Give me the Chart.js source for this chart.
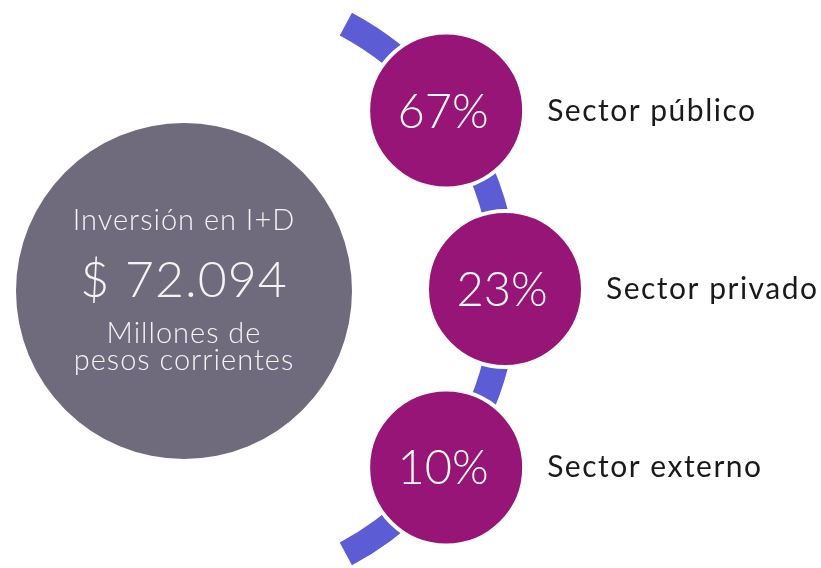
<!DOCTYPE html>
<html>
<head>
<meta charset="utf-8">
<script src="https://cdn.jsdelivr.net/npm/chart.js@4.4.1/dist/chart.umd.min.js"></script>
<style>
  html, body { margin: 0; background: #fff; }
  #wrap { width: 821px; height: 568px; }
</style>
</head>
<body>
<div id="wrap"><canvas id="inversion"></canvas></div>
<script>
const sectors = ["Sector público", "Sector privado", "Sector externo"];
const shares = [67, 23, 10];
const totalTitle = "Inversión en I+D";
const totalAmount = 72094;
const totalUnit = ["Millones de", "pesos corrientes"];

// layout (pixel units on hidden axes)
const ring = { x: 205, y: 289, r: 300, width: 26, span: 62 };
const step = 36.5;
const FONT = "Lato, 'Open Sans', sans-serif";

const fmtAmount = n => "$ " + String(n).replace(/\B(?=(\d{3})+(?!\d))/g, ".");

const sectorPoints = shares.map((v, i) => {
    const a = (i - 1) * step * Math.PI / 180;
    return { x: ring.x + ring.r * Math.cos(a), y: ring.y + ring.r * Math.sin(a), r: 78, v };
});

const ringPlugin = {
    id: "ring",
    beforeDatasetsDraw(chart) {
        const { ctx, scales: { x, y } } = chart;
        const cx = x.getPixelForValue(ring.x), cy = y.getPixelForValue(ring.y);
        const rr = Math.abs(x.getPixelForValue(ring.x + ring.r) - cx);
        ctx.save();
        ctx.strokeStyle = "#5c5cd5";
        ctx.lineWidth = ring.width;
        ctx.lineCap = "butt";
        ctx.beginPath();
        ctx.arc(cx, cy, rr, -ring.span * Math.PI / 180, ring.span * Math.PI / 180);
        ctx.stroke();
        ctx.restore();
    }
};

const textPlugin = {
    id: "texts",
    afterDatasetsDraw(chart) {
        const ctx = chart.ctx;
        ctx.save();
        // total circle
        const big = chart.getDatasetMeta(0).data[0];
        const tx = big.x;
        ctx.fillStyle = "#f4f4f4";
        ctx.textAlign = "center";
        ctx.textBaseline = "alphabetic";
        ctx.letterSpacing = "1px";
        ctx.font = "300 29px " + FONT;
        ctx.fillText(totalTitle, tx, big.y - 61);
        ctx.font = "300 50px " + FONT;
        ctx.fillText(fmtAmount(totalAmount), tx, big.y + 6);
        ctx.font = "300 29px " + FONT;
        ctx.fillText(totalUnit[0], tx, big.y + 52);
        ctx.fillText(totalUnit[1], tx, big.y + 79);

        // sector circles
        chart.getDatasetMeta(1).data.forEach((pt, i) => {
            ctx.fillStyle = "#ffffff";
            ctx.textAlign = "center";
            ctx.letterSpacing = "0px";
            ctx.font = "300 47px " + FONT;
            ctx.fillText(shares[i] + "%", pt.x - 3, pt.y + 17);
            ctx.fillStyle = "#1a1a1a";
            ctx.textAlign = "left";
            ctx.letterSpacing = "1.5px";
            ctx.font = "400 30px " + FONT;
            ctx.fillText(sectors[i], pt.x + 101, pt.y + 10);
        });
        ctx.restore();
    }
};

new Chart(document.getElementById("inversion"), {
    type: "bubble",
    data: {
        datasets: [
            {
                label: totalTitle,
                data: [{ x: 184, y: 291, r: 168, v: totalAmount }],
                backgroundColor: "#6f6b7d",
                borderWidth: 0,
                clip: false
            },
            {
                label: "Participación",
                data: sectorPoints,
                backgroundColor: "#961577",
                borderColor: "#ffffff",
                borderWidth: 4,
                clip: false
            }
        ]
    },
    options: {
        responsive: true,
        maintainAspectRatio: false,
        animation: false,
        events: [],
        layout: { padding: 0, autoPadding: false },
        plugins: { legend: { display: false }, tooltip: { enabled: false } },
        scales: {
            x: { display: false, min: 0, max: 821 },
            y: { display: false, min: 0, max: 568, reverse: true }
        }
    },
    plugins: [ringPlugin, textPlugin]
});
</script>
</body>
</html>
